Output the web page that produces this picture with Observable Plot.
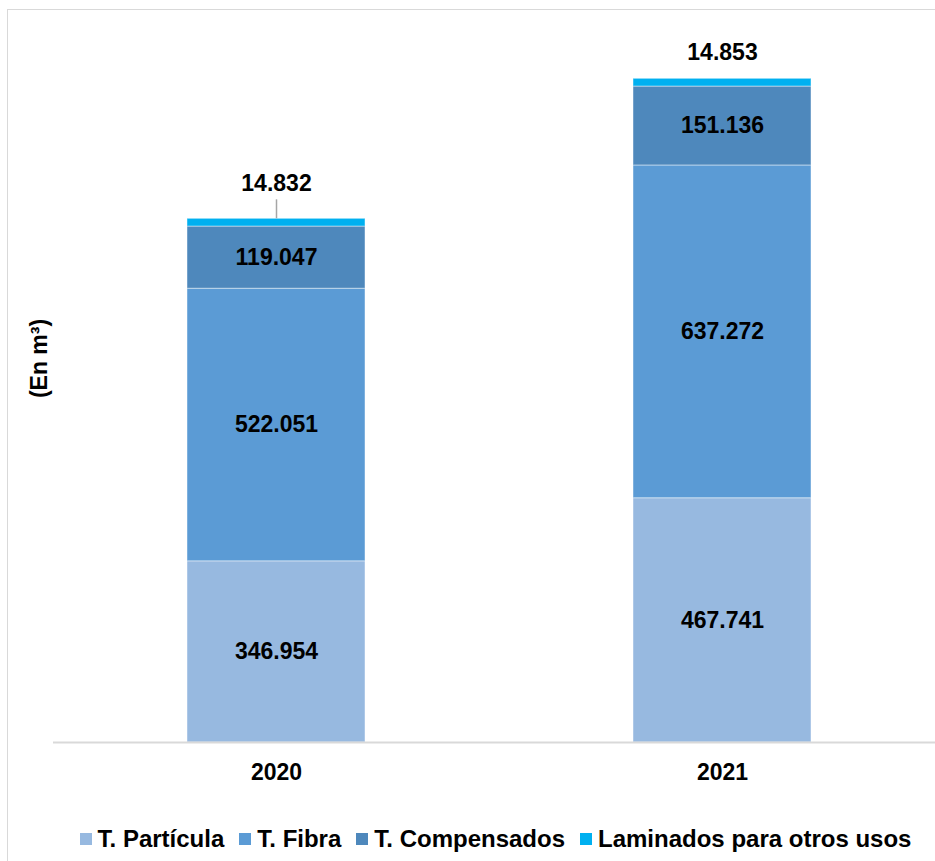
<!DOCTYPE html>
<html>
<head>
<meta charset="utf-8">
<script src="https://cdn.jsdelivr.net/npm/d3@7"></script>
<script src="https://cdn.jsdelivr.net/npm/@observablehq/plot@0.6"></script>
<style>
  html, body { margin: 0; padding: 0; background: #fff; overflow: hidden; }
  #wrap { position: relative; width: 935px; height: 861px; overflow: hidden; font-family: "Liberation Sans", Arial, sans-serif; }
  #border { position: absolute; left: 7px; top: 9px; width: 1200px; height: 1200px; border: 1.5px solid #d9d9d9; box-sizing: border-box; }
  #chart { position: absolute; left: 0; top: 0; }
  #legend { position: absolute; top: 825px; left: 0; width: 991px; display: flex; justify-content: center; gap: 15px; font-weight: bold; font-size: 24px; color: #000; }
  .item { display: flex; align-items: center; white-space: nowrap; }
  .sw { width: 12px; height: 12px; margin-right: 6px; }
</style>
</head>
<body>
<div id="wrap">
  <div id="border"></div>
  <div id="chart"></div>
  <div id="legend"></div>
</div>
<script>
const years = ["2020", "2021"];
const series = ["T. Partícula", "T. Fibra", "T. Compensados", "Laminados para otros usos"];
const particula = [346954, 467741];
const fibra = [522051, 637272];
const compensados = [119047, 151136];
const laminados = [14832, 14853];
const colors = ["#97b9e0", "#5b9bd5", "#4e88bc", "#00b0f0"];

const valuesBySeries = [particula, fibra, compensados, laminados];
const data = [];
series.forEach((s, si) => {
  years.forEach((y, yi) => {
    data.push({year: y, series: s, value: valuesBySeries[si][yi]});
  });
});
const totals = years.map((y, yi) => ({
  year: y,
  total: valuesBySeries.reduce((a, arr) => a + arr[yi], 0),
  top: laminados[yi]
}));
const fmt = v => d3.format(",")(v).replace(/,/g, ".");

const font = "Liberation Sans, Arial, sans-serif";
const inner = data.filter(d => d.series !== "Laminados para otros usos");

const chart = Plot.plot({
  width: 935,
  height: 810,
  marginTop: 0,
  marginLeft: 53,
  marginRight: 0,
  marginBottom: 68,
  style: {fontFamily: font, background: "transparent"},
  x: {domain: years, range: [53, 945], paddingInner: 0.6, paddingOuter: 0.3, label: null},
  y: {domain: [0, 1300000], range: [742, 742 - 1300000 * (663.7 / 1271002)], axis: null},
  color: {domain: series, range: colors},
  marks: [
    Plot.barY(data, Plot.stackY({
      x: "year", y: "value", fill: "series", order: series,
      stroke: "white", strokeOpacity: 0.45, strokeWidth: 1
    })),
    Plot.text(inner, Plot.stackY({
      x: "year", y: "value", z: "series", order: series,
      text: d => fmt(d.value),
      fontSize: 23, fontWeight: "bold", fill: "black"
    })),
    Plot.ruleX(totals.filter(d => d.year === "2020"), {
      x: "year", y1: "total", y2: "total", insetTop: -19, stroke: "#a6a6a6", strokeWidth: 1.5
    }),
    Plot.text(totals.filter(d => d.year === "2020"), {
      x: "year", y: "total", text: d => fmt(d.top), dy: -35,
      fontSize: 23, fontWeight: "bold", fill: "black"
    }),
    Plot.text(totals.filter(d => d.year === "2021"), {
      x: "year", y: "total", text: d => fmt(d.top), dy: -26,
      fontSize: 23, fontWeight: "bold", fill: "black"
    }),
    Plot.ruleY([0], {stroke: "#d9d9d9", strokeWidth: 2}),
    Plot.axisX({tickSize: 0, tickPadding: 21, fontSize: 23, fontWeight: "bold", fill: "black", label: null}),
    Plot.text(["(En m³)"], {
      frameAnchor: "left", textAnchor: "middle", lineAnchor: "middle",
      text: d => d, rotate: -90, dx: -14, dy: -13,
      fontSize: 23, fontWeight: "bold", fill: "black"
    })
  ]
});
document.getElementById("chart").appendChild(chart);

const legend = document.getElementById("legend");
series.forEach((s, i) => {
  const it = document.createElement("div");
  it.className = "item";
  const sw = document.createElement("div");
  sw.className = "sw";
  sw.style.background = colors[i];
  const t = document.createElement("span");
  t.textContent = s;
  it.appendChild(sw);
  it.appendChild(t);
  legend.appendChild(it);
});
</script>
</body>
</html>
